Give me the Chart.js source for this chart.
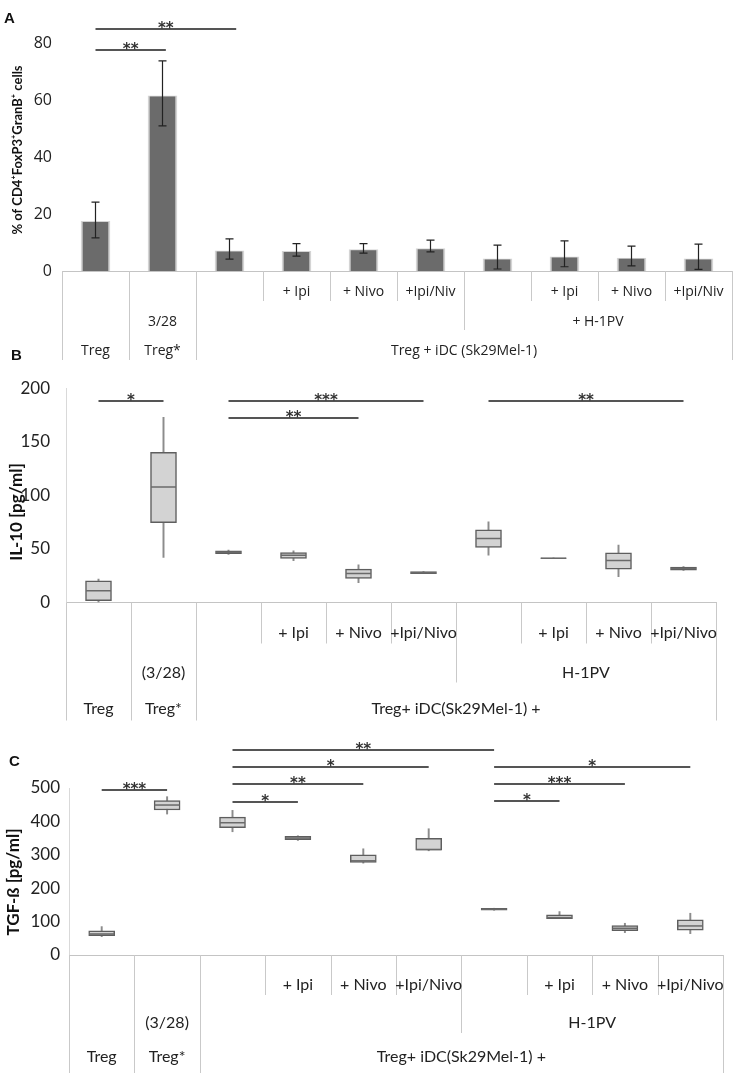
<!DOCTYPE html>
<html>
<head>
<meta charset="utf-8">
<script src="https://cdn.jsdelivr.net/npm/chart.js@4.4.1/dist/chart.umd.min.js"></script>
<style>
  html, body { margin: 0; padding: 0; background: #fff; }
  #page { position: relative; width: 737px; height: 1077px; overflow: hidden; }
  #page canvas { position: absolute; left: 0; }
  .letter { position: absolute; font: bold 15px "Liberation Sans", Arial, sans-serif; line-height: 1; color: #111; }
</style>
</head>
<body>
<div id="page">
  <canvas id="chartA" width="737" height="362" style="top:0"></canvas>
  <canvas id="chartB" width="737" height="360" style="top:362px"></canvas>
  <canvas id="chartC" width="737" height="355" style="top:722px"></canvas>
  <div class="letter" style="left:4px;top:10px">A</div>
  <div class="letter" style="left:11px;top:347px">B</div>
  <div class="letter" style="left:9px;top:753px">C</div>
</div>
<script>
// groups, same order in all three panels
const groups = ["Treg", "Treg*", "iDC", "iDC+Ipi", "iDC+Nivo", "iDC+Ipi/Nivo",
                "H-1PV", "H-1PV+Ipi", "H-1PV+Nivo", "H-1PV+Ipi/Nivo"]

// A: % of CD4+FoxP3+GranB+ cells, mean with error
const meanA = [17.4, 61.5, 7.1, 6.9, 7.5, 7.9, 4.3, 5.0, 4.5, 4.3]
const errHighA = [24.2, 73.7, 11.3, 9.6, 9.6, 10.8, 9.1, 10.6, 8.7, 9.4]
const errLowA = [11.6, 50.9, 4.2, 5.2, 6.3, 6.7, 0.7, 1.5, 1.8, 0.6]
const yTicksA = [0, 20, 40, 60, 80]
const leafA = ["", "", "", "+ Ipi", "+ Nivo", "+Ipi/Niv", "", "+ Ipi", "+ Nivo", "+Ipi/Niv"]
const midA = [["", 1], ["3/28", 1], ["", 4], ["+ H-1PV", 4]]
const topA = [["Treg", 1], ["Treg*", 1], ["Treg + iDC (Sk29Mel-1)", 8]]
const sigA = [[0, 2.1, 85, "**"], [0, 1.05, 77.5, "**"]]

// B: IL-10 [pg/ml] box plots
const minB = [0.3, 42, 44.9, 39, 18.4, 27, 44.2, 41.2, 24, 30]
const q1B = [1.6, 74.5, 45.5, 41.1, 22.4, 27, 51.4, 41.2, 31.2, 30.2]
const medB = [10.9, 107.8, 47, 44, 27.1, 27.8, 59.8, 41.4, 39.3, 31.8]
const q3B = [20.2, 140.2, 48.3, 46.7, 31.2, 28.8, 67.9, 41.6, 46.4, 33]
const maxB = [21.8, 172.9, 48.9, 48.3, 35.2, 28.8, 75.4, 41.6, 53.6, 33.5]
const yTicksB = [0, 50, 100, 150, 200]
const sigB = [[0, 1, 188, "*"], [2, 5, 188, "***"], [2, 4, 172, "**"], [6, 9, 188, "**"]]

// C: TGF-ß [pg/ml] box plots
const minC = [55, 422, 369, 343, 275, 312, 134, 109, 67, 64]
const q1C = [58, 434, 381, 345, 277, 314, 134, 109, 73, 74]
const medC = [63, 449, 396, 350, 282, 316, 137, 112, 80, 87]
const q3C = [72, 462, 413, 355, 300, 349, 140, 120, 88, 105]
const maxC = [85, 474, 433, 357, 318, 378, 140, 130, 95, 125]
const yTicksC = [0, 100, 200, 300, 400, 500]
const sigC = [[0, 1, 494, "***"], [2, 6, 614, "**"], [2, 5, 563, "*"], [6, 9, 563, "*"],
              [2, 4, 512, "**"], [6, 8, 512, "***"], [2, 3, 458, "*"], [6, 7, 461, "*"]]

// table rows of B and C
const leafBC = ["", "", "", "+ Ipi", "+ Nivo", "+Ipi/Nivo", "", "+ Ipi", "+ Nivo", "+Ipi/Nivo"]
const midBC = [["", 1], ["(3/28)", 1], ["", 4], ["H-1PV", 4]]
const topBC = [["Treg", 1], ["Treg*", 1], ["Treg+ iDC(Sk29Mel-1) +", 8]]

// pixel of a (possibly fractional) category index
const catX = (chart, idx) => {
  const x = chart.scales.x
  const p0 = x.getPixelForValue(0)
  return p0 + idx * (x.getPixelForValue(1) - p0)
}

// multi level category table under the x axis
const tablePlugin = {
  id: "catTable",
  afterDraw(chart, args, opts) {
    const { ctx } = chart
    const step = catX(chart, 1) - catX(chart, 0)
    const left = catX(chart, 0) - step / 2
    const base = chart.chartArea.bottom
    const rows = [opts.leaf.map((t) => [t, 1]), opts.mid, opts.top]
    const depth = new Array(opts.leaf.length + 1).fill(0)
    ctx.save()
    rows.forEach((row, r) => {
      let k = 0
      depth[0] = r
      row.forEach(([, span]) => {
        k += span
        depth[k] = Math.max(depth[k], r)
      })
    })
    ctx.strokeStyle = "#c9c9c9"
    ctx.lineWidth = 1
    depth.forEach((d, k) => {
      const px = Math.round(left + k * step) + 0.5
      ctx.beginPath()
      ctx.moveTo(px, base)
      ctx.lineTo(px, base + opts.lineEnds[d])
      ctx.stroke()
    })
    ctx.fillStyle = "#222"
    ctx.font = opts.font
    ctx.textAlign = "center"
    ctx.textBaseline = "middle"
    rows.forEach((row, r) => {
      let k = 0
      row.forEach(([text, span]) => {
        if (text) ctx.fillText(text, left + (k + span / 2) * step, base + opts.textY[r])
        k += span
      })
    })
    ctx.restore()
  },
}

// significance brackets
const sigPlugin = {
  id: "sig",
  afterDraw(chart, args, opts) {
    const { ctx } = chart
    const y = chart.scales.y
    ctx.save()
    ctx.strokeStyle = "#555"
    ctx.lineWidth = 2
    ctx.fillStyle = "#333"
    ctx.font = "bold 15px 'DejaVu Sans', sans-serif"
    ctx.textAlign = "center"
    ctx.textBaseline = "alphabetic"
    opts.items.forEach(([from, to, v, label]) => {
      const x1 = catX(chart, from)
      const x2 = catX(chart, to)
      const py = Math.round(y.getPixelForValue(v))
      ctx.beginPath()
      ctx.moveTo(x1, py)
      ctx.lineTo(x2, py)
      ctx.stroke()
      ctx.fillText(label, (x1 + x2) / 2, py + 4)
    })
    ctx.restore()
  },
}

// error bars for panel A
const errorPlugin = {
  id: "errors",
  afterDatasetsDraw(chart, args, opts) {
    const { ctx } = chart
    const y = chart.scales.y
    ctx.save()
    ctx.strokeStyle = "#222"
    ctx.lineWidth = 1.2
    opts.high.forEach((hi, i) => {
      const px = catX(chart, i)
      const top = y.getPixelForValue(hi)
      const bot = y.getPixelForValue(opts.low[i])
      ctx.beginPath()
      ctx.moveTo(px, top)
      ctx.lineTo(px, bot)
      ctx.moveTo(px - 4, top)
      ctx.lineTo(px + 4, top)
      ctx.moveTo(px - 4, bot)
      ctx.lineTo(px + 4, bot)
      ctx.stroke()
    })
    ctx.restore()
  },
}

// rotated y axis title at a fixed spot
const axisTitlePlugin = {
  id: "axisTitle",
  afterDraw(chart, args, opts) {
    const { ctx } = chart
    ctx.save()
    ctx.translate(opts.x, opts.y)
    ctx.rotate(-Math.PI / 2)
    ctx.fillStyle = "#111"
    ctx.font = opts.font
    ctx.textAlign = "center"
    ctx.textBaseline = "middle"
    ctx.fillText(opts.text, 0, 0)
    ctx.restore()
  },
}

const yScale = (max, ticks, width, pad, font, border) => ({
  min: 0,
  max: max,
  afterBuildTicks: (s) => { s.ticks = ticks.map((v) => ({ value: v })) },
  afterFit: (s) => { s.width = width },
  grid: { display: false, drawTicks: false },
  border: { display: border, color: "#d9d9d9" },
  ticks: { padding: pad, color: "#222", font: font },
})

const xScale = {
  grid: { display: false, drawTicks: false },
  border: { color: "#c4c4c4" },
  ticks: { display: false },
}

const baseOptions = (padding) => ({
  responsive: false,
  animation: false,
  layout: { padding: padding },
})

// Panel A
new Chart(document.getElementById("chartA"), {
  type: "bar",
  data: {
    labels: groups,
    datasets: [{
      data: meanA,
      backgroundColor: "#6b6b6b",
      borderColor: "#d4d4d4",
      borderWidth: { top: 1, left: 2, right: 2, bottom: 0 },
      barThickness: 29,
    }],
  },
  options: {
    ...baseOptions({ top: 43, bottom: 91, right: 5, left: 0 }),
    scales: {
      x: xScale,
      y: yScale(80, yTicksA, 62, 10, { family: "'Open Sans', sans-serif", size: 16 }, false),
    },
    plugins: {
      legend: { display: false },
      tooltip: { enabled: false },
      errors: { high: errHighA, low: errLowA },
      sig: { items: sigA },
      catTable: {
        leaf: leafA, mid: midA, top: topA,
        font: "14px 'Open Sans', sans-serif",
        textY: [21, 51, 80], lineEnds: [30, 59, 89],
      },
      axisTitle: { text: "% of CD4⁺FoxP3⁺GranB⁺ cells", x: 18, y: 150, font: "bold 13px Lato, sans-serif" },
    },
  },
  plugins: [errorPlugin, sigPlugin, tablePlugin, axisTitlePlugin],
})

// box plot datasets: whisker, box and median from the five arrays
const boxDatasets = (mins, q1s, meds, q3s, maxs) => [
  {
    type: "line", data: meds, showLine: false, order: 0,
    pointStyle: "line", pointRadius: 12.5, pointBorderColor: "#6a6a6a", pointBorderWidth: 1.5,
  },
  {
    data: q1s.map((q, i) => [q, q3s[i]]), order: 1, grouped: false,
    backgroundColor: "#d3d3d3", borderColor: "#5e5e5e", borderWidth: 1.5, borderSkipped: false, barThickness: 26,
  },
  {
    data: mins.map((m, i) => [m, maxs[i]]), order: 2, grouped: false,
    backgroundColor: "#8c8c8c", barThickness: 1.3,
  },
]

// Panel B
new Chart(document.getElementById("chartB"), {
  type: "bar",
  data: { labels: groups, datasets: boxDatasets(minB, q1B, medB, q3B, maxB) },
  options: {
    ...baseOptions({ top: 26, bottom: 119.5, right: 21, left: 0 }),
    scales: {
      x: xScale,
      y: yScale(200, yTicksB, 66, 16, { family: "Lato, sans-serif", size: 17 }, true),
    },
    plugins: {
      legend: { display: false },
      tooltip: { enabled: false },
      sig: { items: sigB },
      catTable: {
        leaf: leafBC, mid: midBC, top: topBC,
        font: "16px Lato, sans-serif",
        textY: [30, 70, 106], lineEnds: [41, 80, 118],
      },
      axisTitle: { text: "IL-10 [pg/ml]", x: 17, y: 150, font: "bold 17px Lato, sans-serif" },
    },
  },
  plugins: [sigPlugin, tablePlugin, axisTitlePlugin],
})

// Panel C
new Chart(document.getElementById("chartC"), {
  type: "bar",
  data: { labels: groups, datasets: boxDatasets(minC, q1C, medC, q3C, maxC) },
  options: {
    ...baseOptions({ top: 66, bottom: 122, right: 12, left: 0 }),
    scales: {
      x: xScale,
      y: yScale(500, yTicksC, 69, 9, { family: "Lato, sans-serif", size: 17 }, true),
    },
    plugins: {
      legend: { display: false },
      tooltip: { enabled: false },
      sig: { items: sigC },
      catTable: {
        leaf: leafBC, mid: midBC, top: topBC,
        font: "16px Lato, sans-serif",
        textY: [30, 68, 102], lineEnds: [40, 78, 118],
      },
      axisTitle: { text: "TGF-ß [pg/ml]", x: 14, y: 160, font: "bold 17px Lato, sans-serif" },
    },
  },
  plugins: [sigPlugin, tablePlugin, axisTitlePlugin],
})
</script>
</body>
</html>
